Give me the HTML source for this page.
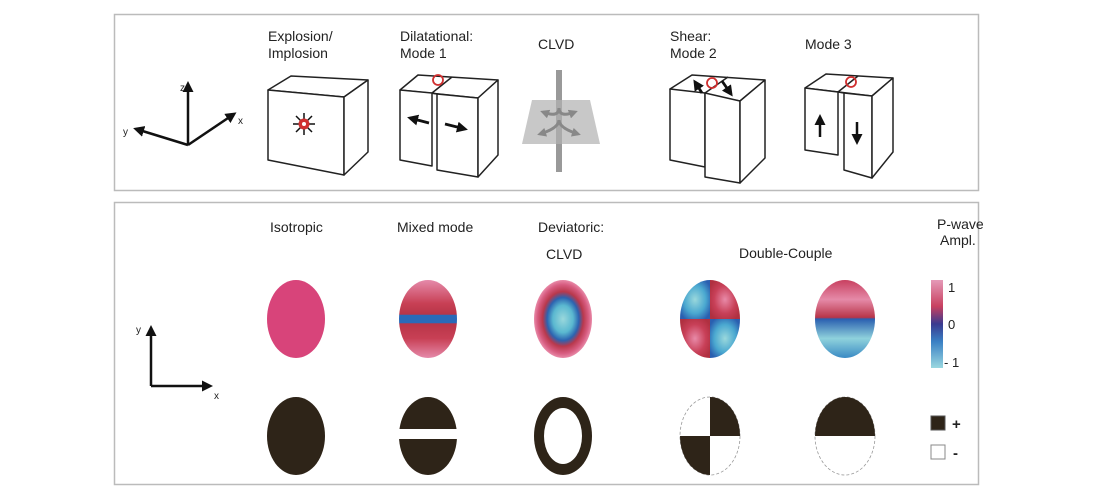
<!DOCTYPE html>
<html><head><style>
html,body{margin:0;padding:0;background:#fff;}
svg{display:block;font-family:"Liberation Sans",sans-serif;}
</style></head><body>
<svg width="1100" height="500" viewBox="0 0 1100 500" xmlns="http://www.w3.org/2000/svg">
<defs>
<marker id="ah" markerWidth="11" markerHeight="11" refX="8" refY="5.5" orient="auto" markerUnits="userSpaceOnUse"><path d="M0,0 L11,5.5 L0,11 Z" fill="#111"/></marker>
<marker id="ahg" markerWidth="9" markerHeight="9" refX="6" refY="4.5" orient="auto" markerUnits="userSpaceOnUse"><path d="M0,0 L9,4.5 L0,9 Z" fill="#888"/></marker>
<radialGradient id="clvd" cx="50%" cy="50%" r="50%">
<stop offset="0" stop-color="#9ad8dc"/><stop offset="0.35" stop-color="#5ab8d0"/><stop offset="0.55" stop-color="#2c63b0"/><stop offset="0.7" stop-color="#b8384c"/><stop offset="0.88" stop-color="#d75c80"/><stop offset="1" stop-color="#e88aa8"/></radialGradient>
<linearGradient id="mixed" x1="0" y1="0" x2="0" y2="1">
<stop offset="0" stop-color="#e58aaa"/><stop offset="0.3" stop-color="#c84055"/><stop offset="0.44" stop-color="#b83548"/><stop offset="0.45" stop-color="#2a6ab8"/><stop offset="0.55" stop-color="#2a6ab8"/><stop offset="0.56" stop-color="#b83548"/><stop offset="0.75" stop-color="#c84055"/><stop offset="1" stop-color="#e58aaa"/></linearGradient>
<linearGradient id="dc2" x1="0" y1="0" x2="0" y2="1">
<stop offset="0" stop-color="#c84060"/><stop offset="0.25" stop-color="#e58aa8"/><stop offset="0.48" stop-color="#b83548"/><stop offset="0.5" stop-color="#2a5fb0"/><stop offset="0.75" stop-color="#8fd2dc"/><stop offset="1" stop-color="#3a8ac4"/></linearGradient>
<linearGradient id="cbar" x1="0" y1="0" x2="0" y2="1">
<stop offset="0" stop-color="#e59ab8"/><stop offset="0.3" stop-color="#c84060"/><stop offset="0.5" stop-color="#3a3a90"/><stop offset="0.7" stop-color="#3a80c4"/><stop offset="1" stop-color="#9ad8e0"/></linearGradient>
<radialGradient id="cyanq" cx="50%" cy="50%" r="60%"><stop offset="0" stop-color="#9ad8dc"/><stop offset="0.6" stop-color="#4aa8d0"/><stop offset="1" stop-color="#2a5fb0"/></radialGradient>
<radialGradient id="redq" cx="50%" cy="50%" r="60%"><stop offset="0" stop-color="#e88aa8"/><stop offset="0.6" stop-color="#c84058"/><stop offset="1" stop-color="#b03040"/></radialGradient>
<clipPath id="c1"><ellipse cx="710" cy="319" rx="30" ry="39"/></clipPath>
<clipPath id="c2"><ellipse cx="710" cy="436" rx="30" ry="39"/></clipPath>
<clipPath id="c3"><ellipse cx="845" cy="436" rx="30" ry="39"/></clipPath>
</defs>

<rect x="114.5" y="14.5" width="864" height="176" fill="none" stroke="#bbb" stroke-width="1.5"/>
<rect x="114.5" y="202.5" width="864" height="282" fill="none" stroke="#bbb" stroke-width="1.5"/>

<g font-size="14" fill="#222">
<text x="268" y="41">Explosion/</text><text x="268" y="58">Implosion</text>
<text x="400" y="41">Dilatational:</text><text x="400" y="58">Mode 1</text>
<text x="538" y="49">CLVD</text>
<text x="670" y="41">Shear:</text><text x="670" y="58">Mode 2</text>
<text x="805" y="49">Mode 3</text>
</g>

<g stroke="#111" stroke-width="2.5" fill="none">
<line x1="188" y1="145" x2="188" y2="84" marker-end="url(#ah)"/>
<line x1="188" y1="145" x2="234" y2="114" marker-end="url(#ah)"/>
<line x1="188" y1="145" x2="136" y2="129" marker-end="url(#ah)"/>
</g>
<g font-size="10" fill="#222"><text x="180" y="91">z</text><text x="238" y="124">x</text><text x="123" y="135">y</text></g>

<g stroke="#222" stroke-width="1.5" fill="#fff" stroke-linejoin="round">
<path d="M268,90 L291,76 L368,80 L344,97 Z"/>
<path d="M268,90 L344,97 L344,175 L268,160 Z"/>
<path d="M344,97 L368,80 L368,152 L344,175 Z"/>
</g>
<g stroke="#111" stroke-width="1.5"><line x1="293" y1="124" x2="315" y2="124"/><line x1="304" y1="113" x2="304" y2="135"/><line x1="296" y1="116" x2="312" y2="132"/><line x1="312" y1="116" x2="296" y2="132"/></g>
<circle cx="304" cy="124" r="5.5" fill="#d03030"/><circle cx="304" cy="124" r="2" fill="#fff"/>

<g stroke="#222" stroke-width="1.5" fill="#fff" stroke-linejoin="round">
<path d="M400,90 L418,75 L498,80 L478,98 Z"/>
<path d="M400,90 L432,93 L432,166 L400,160 Z"/>
<path d="M437,94 L478,98 L478,177 L437,170 Z"/>
<path d="M478,98 L498,80 L498,155 L478,177 Z"/>
<line x1="432" y1="93" x2="437" y2="94"/><line x1="432" y1="93" x2="452" y2="77"/>
</g>
<circle cx="438" cy="80" r="5" fill="none" stroke="#d03030" stroke-width="1.8"/>
<g stroke="#111" stroke-width="2.8"><line x1="429" y1="123" x2="410" y2="118" marker-end="url(#ah)"/><line x1="445" y1="124" x2="465" y2="129" marker-end="url(#ah)"/></g>

<line x1="559" y1="70" x2="559" y2="172" stroke="#999" stroke-width="6"/>
<path d="M532,100 L590,100 L600,144 L522,144 Z" fill="#c8c8c8"/>
<line x1="559" y1="100" x2="559" y2="144" stroke="#aaa" stroke-width="6"/>
<g stroke="#888" stroke-width="3" fill="none">
<path d="M559,108 Q559,118 543,112" marker-end="url(#ahg)"/><path d="M559,108 Q559,118 575,112" marker-end="url(#ahg)"/>
<path d="M559,120 Q559,128 540,134" marker-end="url(#ahg)"/><path d="M559,120 Q559,128 578,134" marker-end="url(#ahg)"/>
</g>

<g stroke="#222" stroke-width="1.5" fill="#fff" stroke-linejoin="round">
<path d="M670,89 L692,75 L765,80 L740,101 Z"/>
<path d="M670,89 L705,93 L705,167 L670,160 Z"/>
<path d="M705,93 L740,101 L740,183 L705,177 Z"/>
<path d="M740,101 L765,80 L765,158 L740,183 Z"/>
<line x1="705" y1="93" x2="728" y2="77"/>
</g>
<circle cx="712" cy="83" r="5" fill="none" stroke="#d03030" stroke-width="1.8"/>
<g stroke="#111" stroke-width="2.8"><line x1="702" y1="93" x2="695" y2="82" marker-end="url(#ah)"/><line x1="722" y1="81" x2="731" y2="94" marker-end="url(#ah)"/></g>

<g stroke="#222" stroke-width="1.5" fill="#fff" stroke-linejoin="round">
<path d="M805,88 L826,74 L893,78 L872,96 Z"/>
<path d="M805,88 L838,92 L838,155 L805,150 Z"/>
<path d="M844,93 L872,96 L872,178 L844,170 Z"/>
<path d="M872,96 L893,78 L893,152 L872,178 Z"/>
<line x1="838" y1="92" x2="844" y2="93"/><line x1="838" y1="92" x2="858" y2="76"/>
</g>
<circle cx="851" cy="82" r="5" fill="none" stroke="#d03030" stroke-width="1.8"/>
<g stroke="#111" stroke-width="2.5"><line x1="820" y1="137" x2="820" y2="117" marker-end="url(#ah)"/><line x1="857" y1="122" x2="857" y2="142" marker-end="url(#ah)"/></g>

<g font-size="14" fill="#222">
<text x="270" y="232">Isotropic</text>
<text x="397" y="232">Mixed mode</text>
<text x="538" y="232">Deviatoric:</text>
<text x="546" y="259">CLVD</text>
<text x="739" y="258">Double-Couple</text>
<text x="937" y="229">P-wave</text>
<text x="940" y="245">Ampl.</text>
</g>

<g stroke="#111" stroke-width="2.5"><line x1="151" y1="386" x2="151" y2="328" marker-end="url(#ah)"/><line x1="151" y1="386" x2="210" y2="386" marker-end="url(#ah)"/></g>
<g font-size="10" fill="#222"><text x="136" y="333">y</text><text x="214" y="399">x</text></g>

<ellipse cx="296" cy="319" rx="29" ry="39" fill="#d8447a"/>
<ellipse cx="428" cy="319" rx="29" ry="39" fill="url(#mixed)"/>
<ellipse cx="563" cy="319" rx="29" ry="39" fill="url(#clvd)"/>
<g clip-path="url(#c1)">
<rect x="680" y="280" width="30" height="39" fill="url(#cyanq)"/>
<rect x="710" y="280" width="30" height="39" fill="url(#redq)"/>
<rect x="680" y="319" width="30" height="39" fill="url(#redq)"/>
<rect x="710" y="319" width="30" height="39" fill="url(#cyanq)"/>
</g>
<ellipse cx="845" cy="319" rx="30" ry="39" fill="url(#dc2)"/>
<rect x="931" y="280" width="12" height="88" fill="url(#cbar)"/>
<g font-size="13" fill="#222"><text x="948" y="292">1</text><text x="948" y="329">0</text><text x="944" y="367">- 1</text></g>

<ellipse cx="296" cy="436" rx="29" ry="39" fill="#2e2418"/>
<ellipse cx="428" cy="436" rx="29" ry="39" fill="#2e2418"/>
<rect x="396" y="429" width="64" height="10" fill="#fff"/>
<ellipse cx="563" cy="436" rx="29" ry="39" fill="#2e2418"/>
<ellipse cx="563" cy="436" rx="19" ry="28" fill="#fff"/>
<ellipse cx="710" cy="436" rx="30" ry="39" fill="none" stroke="#999" stroke-width="0.8" stroke-dasharray="3 2"/>
<g clip-path="url(#c2)"><rect x="710" y="396" width="31" height="40" fill="#2e2418"/><rect x="679" y="436" width="31" height="40" fill="#2e2418"/></g>
<ellipse cx="845" cy="436" rx="30" ry="39" fill="none" stroke="#999" stroke-width="0.8" stroke-dasharray="3 2"/>
<g clip-path="url(#c3)"><rect x="814" y="396" width="62" height="40" fill="#2e2418"/></g>
<rect x="931" y="416" width="14" height="14" fill="#2e2418" stroke="#555"/>
<rect x="931" y="445" width="14" height="14" fill="#fff" stroke="#888"/>
<g font-size="15" fill="#222" font-weight="bold"><text x="952" y="429">+</text><text x="953" y="458">-</text></g>
</svg>
</body></html>
